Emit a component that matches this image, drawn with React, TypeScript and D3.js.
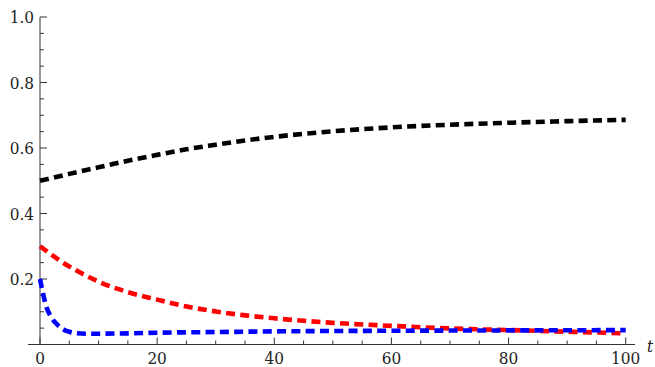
import React, { useEffect, useRef } from 'react';
import * as d3 from 'd3';

// black series
const tBlack = [0, 5, 10, 15, 20, 25, 30, 35, 40, 50, 60, 70, 80, 90, 100];
const vBlack = [0.5, 0.521, 0.541, 0.561, 0.579, 0.596, 0.61, 0.623, 0.634, 0.651, 0.663, 0.671, 0.677, 0.682, 0.686];

// red series
const tRed = [0, 2, 4, 6, 8, 10, 15, 20, 25, 30, 35, 40, 50, 60, 70, 80, 90, 100];
const vRed = [0.3, 0.274, 0.249, 0.228, 0.209, 0.192, 0.16, 0.137, 0.116, 0.101, 0.089, 0.08, 0.066, 0.057, 0.049, 0.044, 0.039, 0.034];

// blue series
const tBlue = [0, 0.5, 1, 2, 3, 4, 5, 6, 8, 10, 15, 20, 30, 40, 60, 80, 100];
const vBlue = [0.2, 0.157, 0.12, 0.081, 0.06, 0.046, 0.039, 0.035, 0.033, 0.033, 0.034, 0.036, 0.038, 0.04, 0.042, 0.043, 0.044];

const xMajor = [0, 20, 40, 60, 80, 100];
const yMajor = [0.2, 0.4, 0.6, 0.8, 1.0];

const W = 655, H = 367;

const App = () => {
	const ref = useRef<SVGSVGElement>(null);

	useEffect(() => {
		const svg = d3.select(ref.current);
		svg.selectAll('*').remove();

		const x = d3.scaleLinear().domain([0, 100]).range([40, 625.7]);
		const y = d3.scaleLinear().domain([0, 1]).range([344.5, 17]);
		const axisColor = '#333';
		const font = "'DejaVu Serif Condensed', 'DejaVu Serif', serif";
		const fs = 17;

		// axes lines
		svg.append('line').attr('x1', 28).attr('x2', 635).attr('y1', y(0)).attr('y2', y(0))
			.attr('stroke', axisColor).attr('stroke-width', 1);
		svg.append('line').attr('x1', x(0)).attr('x2', x(0)).attr('y1', y(0)).attr('y2', y(1))
			.attr('stroke', axisColor).attr('stroke-width', 1);

		// x ticks
		const xMinor = d3.range(0, 101, 5);
		svg.selectAll('.xt').data(xMinor).enter().append('line')
			.attr('x1', d => x(d)).attr('x2', d => x(d))
			.attr('y1', y(0)).attr('y2', d => y(0) - (d % 20 === 0 ? 7 : 4))
			.attr('stroke', axisColor).attr('stroke-width', 1);
		svg.selectAll('.xl').data(xMajor).enter().append('text')
			.attr('x', d => x(d)).attr('y', 364)
			.attr('text-anchor', 'middle')
			.attr('font-family', font).attr('font-size', fs)
			.attr('fill', '#222')
			.text(d => d);
		svg.append('text').attr('x', 647).attr('y', 352)
			.attr('font-family', font).attr('font-size', fs).attr('font-style', 'italic')
			.attr('fill', '#222').text('t');

		// y ticks
		const yMinor = d3.range(1, 21).map(i => i * 0.05);
		svg.selectAll('.yt').data(yMinor).enter().append('line')
			.attr('x1', x(0)).attr('x2', (d, i) => x(0) + ((i + 1) % 4 === 0 ? 7 : 4))
			.attr('y1', d => y(d)).attr('y2', d => y(d))
			.attr('stroke', axisColor).attr('stroke-width', 1);
		svg.selectAll('.yl').data(yMajor).enter().append('text')
			.attr('x', 34).attr('y', d => y(d) + 6)
			.attr('text-anchor', 'end')
			.attr('font-family', font).attr('font-size', fs)
			.attr('fill', '#222')
			.text(d => d.toFixed(1));

		// series
		const line = d3.line<[number, number]>()
			.x(d => x(d[0])).y(d => y(d[1]))
			.curve(d3.curveMonotoneX);
		const series = [
			{ t: tRed, v: vRed, color: '#ff0000' },
			{ t: tBlue, v: vBlue, color: '#0000ff' },
			{ t: tBlack, v: vBlack, color: '#000000' },
		];
		series.forEach(s => {
			const pts = s.t.map((t, i) => [t, s.v[i]] as [number, number]);
			svg.append('path').attr('d', line(pts))
				.attr('fill', 'none').attr('stroke', s.color)
				.attr('stroke-width', 4.6)
				.attr('stroke-dasharray', '9,5.3');
		});
	}, []);

	return (
		<svg ref={ref} width={W} height={H} style={{ position: 'absolute', left: 0, top: 0, background: '#fff' }} />
	);
};

export default App;
